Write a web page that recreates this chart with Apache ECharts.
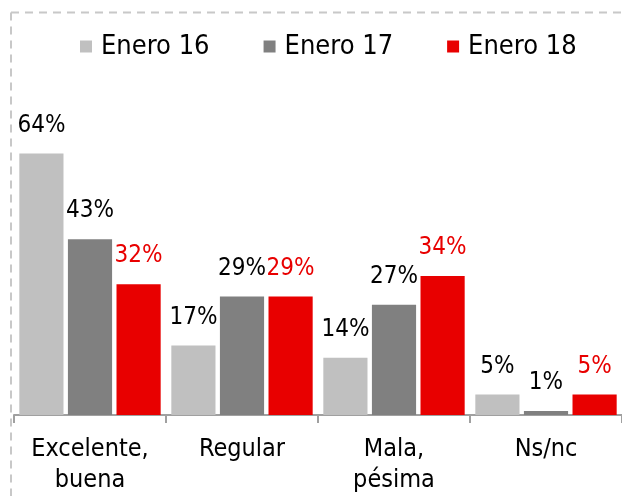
<!DOCTYPE html>
<html>
<head>
<meta charset="utf-8">
<script src="https://cdn.jsdelivr.net/npm/echarts@6/dist/echarts.min.js"></script>
<style>html,body{margin:0;padding:0;background:#fff}#c{width:622px;height:496px}</style>
</head>
<body>
<div id="c"></div>
<script>
var categories = ['Excelente,\nbuena', 'Regular', 'Mala,\npésima', 'Ns/nc'];
var seriesNames = ['Enero 16', 'Enero 17', 'Enero 18'];
var enero16 = [64, 17, 14, 5];
var enero17 = [43, 29, 27, 1];
var enero18 = [32, 29, 34, 5];
var colors = ['#c0c0c0', '#808080', '#e80000'];
var labelColors = ['#000000', '#000000', '#e80000'];
var FONT = '"DejaVu Sans Condensed", "DejaVu Sans", sans-serif';

var chart = echarts.init(document.getElementById('c'), null, {renderer: 'canvas'});
var data = [enero16, enero17, enero18];
var series = data.map(function (d, i) {
  return {
    name: seriesNames[i],
    type: 'bar',
    data: d,
    barGap: '10%',
    barCategoryGap: '7%',
    itemStyle: {color: colors[i]},
    label: {
      show: true,
      position: 'top',
      distance: 16,
      formatter: '{c}%',
      color: labelColors[i],
      fontFamily: FONT,
      fontSize: 24
    }
  };
});

chart.setOption({
  animation: false,
  color: colors,
  legend: {
    left: 75,
    top: 28,
    itemWidth: 12,
    itemHeight: 12,
    itemGap: 54,
    icon: 'rect',
    textStyle: {fontFamily: FONT, fontSize: 27, color: '#000', padding: [0, 0, 0, 4]},
    data: seriesNames
  },
  grid: {left: 14, width: 610, top: 88, bottom: 80, containLabel: false},
  xAxis: {
    type: 'category',
    data: categories,
    axisLine: {show: true, lineStyle: {color: '#a0a0a0', width: 2}},
    axisTick: {show: true, interval: 0, length: 8, lineStyle: {color: '#a0a0a0', width: 2}},
    axisLabel: {interval: 0, fontFamily: FONT, fontSize: 25, color: '#000', lineHeight: 31, margin: 19}
  },
  yAxis: {
    type: 'value',
    min: 0,
    max: 80,
    show: false,
    splitLine: {show: false}
  },
  graphic: [
    {type: 'line', shape: {x1: 11, y1: 12.5, x2: 622, y2: 12.5}, style: {stroke: '#c8c8c8', lineWidth: 2, lineDash: [8, 6]}},
    {type: 'line', shape: {x1: 11, y1: 12.5, x2: 11, y2: 496}, style: {stroke: '#c8c8c8', lineWidth: 2, lineDash: [8, 6]}}
  ],
  series: series
});
</script>
</body>
</html>
